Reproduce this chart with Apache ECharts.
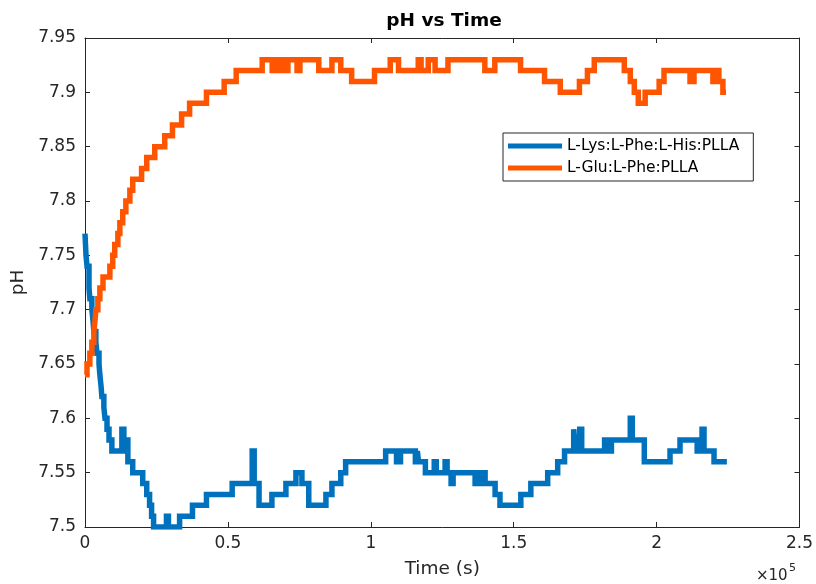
<!DOCTYPE html>
<html>
<head>
<meta charset="utf-8">
<script src="https://cdn.jsdelivr.net/npm/echarts@6/dist/echarts.min.js"></script>
<style>
html,body{margin:0;padding:0;background:#fff;}
#chart{width:816px;height:584px;}
</style>
</head>
<body>
<div id="chart"></div>
<script>
// Time in seconds, pH values (step changes)
var lysTime = [0,350,700,1400,1700,2400,2800,3100,3800,4200,4900,5200,5600,5900,6600,7000,7700,8400,9400,12900,13600,14300,15000,16700,20200,21600,22600,23300,24000,28500,29200,33100,37600,42500,51500,58500,59200,60900,65400,70300,73800,75900,78300,84300,86400,89500,91200,105200,109000,110400,115600,116300,116700,119100,122200,122900,126000,126700,128100,128800,136500,137200,138200,138900,140000,143500,145200,152500,156000,161900,165400,167800,171000,171600,173100,173800,181800,183500,184200,190800,191500,195700,204700,208200,214200,215900,216600,220100,224600];
var lysPH = [7.77,7.75,7.74,7.72,7.71,7.70,7.69,7.68,7.67,7.66,7.65,7.64,7.63,7.62,7.61,7.60,7.59,7.58,7.57,7.59,7.57,7.58,7.56,7.55,7.54,7.53,7.52,7.51,7.50,7.51,7.50,7.51,7.52,7.53,7.54,7.57,7.54,7.52,7.53,7.54,7.55,7.54,7.52,7.53,7.54,7.55,7.56,7.57,7.56,7.57,7.56,7.57,7.56,7.55,7.56,7.55,7.56,7.55,7.54,7.55,7.54,7.55,7.54,7.55,7.54,7.53,7.52,7.53,7.54,7.55,7.56,7.57,7.59,7.57,7.59,7.57,7.58,7.57,7.58,7.60,7.58,7.56,7.57,7.58,7.57,7.59,7.57,7.56,7.56];

var gluTime = [0,700,1700,2400,3100,3500,3800,4500,5200,6300,8700,9700,10400,11500,12200,13200,14300,15700,16700,19800,21600,24400,27900,30600,33800,36600,42500,48700,52900,62000,65500,66500,67900,68900,70300,71000,74200,75200,81800,86400,89500,93300,101300,106800,109700,116600,117600,120100,122500,127000,139900,143400,152400,160800,166300,173000,175800,178200,188700,190800,192200,193600,196000,200900,202600,211700,213100,219700,220800,221800,223200,224300];
var gluPH = [7.64,7.65,7.66,7.67,7.68,7.69,7.70,7.71,7.72,7.73,7.74,7.75,7.76,7.77,7.78,7.79,7.80,7.81,7.82,7.83,7.84,7.85,7.86,7.87,7.88,7.89,7.90,7.91,7.92,7.93,7.92,7.93,7.92,7.93,7.92,7.93,7.92,7.93,7.92,7.93,7.92,7.91,7.92,7.93,7.92,7.93,7.92,7.93,7.92,7.93,7.92,7.93,7.92,7.91,7.90,7.91,7.92,7.93,7.92,7.91,7.90,7.89,7.90,7.91,7.92,7.91,7.92,7.91,7.92,7.91,7.90,7.90];

var seriesNames = ['L-Lys:L-Phe:L-His:PLLA', 'L-Glu:L-Phe:PLLA'];
var xTicks = [0, 50000, 100000, 150000, 200000, 250000];

function pairs(t, v) { return t.map(function (x, i) { return [x, v[i]]; }); }

var FONT = 'DejaVu Sans';
var AX = '#262626';

var chart = echarts.init(document.getElementById('chart'), null, {renderer: 'canvas'});

var axisCommonX = {
  type: 'value', min: xTicks[0], max: xTicks[xTicks.length - 1], interval: 50000,
  axisLine: {show: true, onZero: false, lineStyle: {color: AX, width: 1}},
  axisTick: {show: true, inside: true, length: 5, lineStyle: {color: AX}},
  splitLine: {show: false}
};
var axisCommonY = {
  type: 'value', min: 7.5, max: 7.95, interval: 0.05,
  axisLine: {show: true, onZero: false, lineStyle: {color: AX, width: 1}},
  axisTick: {show: true, inside: true, length: 5, lineStyle: {color: AX}},
  splitLine: {show: false}
};

chart.setOption({
  animation: false,
  backgroundColor: '#fff',
  title: {
    text: 'pH vs Time', left: 444, top: 12, textAlign: 'center', padding: 0,
    textStyle: {fontFamily: FONT, fontSize: 18.5, fontWeight: 'bold', color: '#000'}
  },
  grid: {left: 85, right: 13, top: 38, bottom: 54, containLabel: false},
  legend: {
    orient: 'vertical', left: 503, top: 133, padding: [5, 14, 5, 5], itemGap: 6,
    itemWidth: 54, itemHeight: 5, icon: 'rect',
    borderColor: AX, borderWidth: 1, backgroundColor: '#fff',
    textStyle: {fontFamily: FONT, fontSize: 15.5, color: '#000'},
    data: seriesNames
  },
  xAxis: [
    Object.assign({}, axisCommonX, {
      position: 'bottom',
      name: 'Time (s)', nameLocation: 'middle', nameGap: 33,
      nameTextStyle: {fontFamily: FONT, fontSize: 18.5, color: AX},
      axisLabel: {show: true, margin: 8, fontFamily: FONT, fontSize: 17, color: AX,
        formatter: function (v) { return String(+(v / 1e5).toFixed(2)); }}
    }),
    Object.assign({}, axisCommonX, {position: 'top', axisLabel: {show: false}})
  ],
  yAxis: [
    Object.assign({}, axisCommonY, {
      position: 'left',
      name: 'pH', nameLocation: 'middle', nameGap: 56, nameRotate: 90,
      nameTextStyle: {fontFamily: FONT, fontSize: 18.5, color: AX},
      axisLabel: {show: true, margin: 9, fontFamily: FONT, fontSize: 17, color: AX,
        formatter: function (v) { return String(+v.toFixed(2)); }}
    }),
    Object.assign({}, axisCommonY, {position: 'right', axisLabel: {show: false}})
  ],
  graphic: [
    {type: 'text', left: 756, top: 569, style: {text: '×10', font: '15px "DejaVu Sans"', fill: AX}},
    {type: 'text', left: 789, top: 563, style: {text: '5', font: '11px "DejaVu Sans"', fill: AX}}
  ],
  series: [
    {
      name: seriesNames[0], type: 'line', step: 'end', showSymbol: false, symbol: 'none',
      xAxisIndex: 0, yAxisIndex: 0,
      data: pairs(lysTime, lysPH),
      color: '#0072BD',
      lineStyle: {width: 5.5, color: '#0072BD', join: 'miter'}
    },
    {
      name: seriesNames[1], type: 'line', step: 'end', showSymbol: false, symbol: 'none',
      xAxisIndex: 0, yAxisIndex: 0,
      data: pairs(gluTime, gluPH),
      color: '#FF5500',
      lineStyle: {width: 5.5, color: '#FF5500', join: 'miter'}
    }
  ]
});
</script>
</body>
</html>
